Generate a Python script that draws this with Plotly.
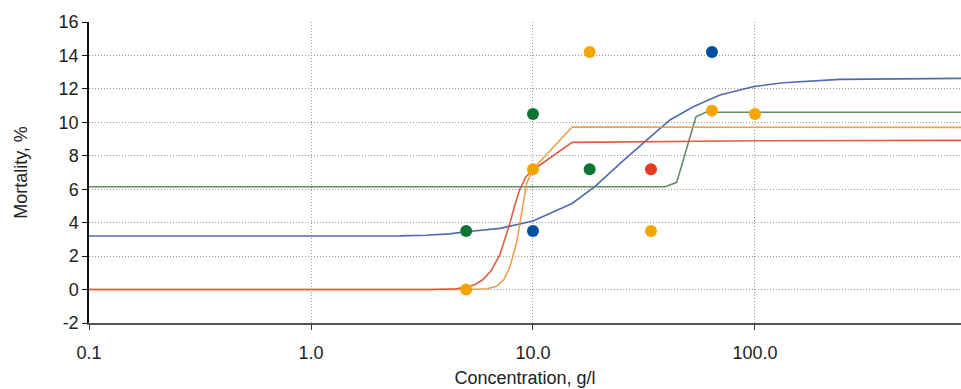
import plotly.graph_objects as go

# ---- data ----
blue_pts_x = [10, 64]
blue_pts_y = [3.5, 14.2]
green_pts_x = [5, 10, 18]
green_pts_y = [3.5, 10.5, 7.2]
red_pts_x = [34]
red_pts_y = [7.2]
orange_pts_x = [5, 10, 18, 34, 64, 100]
orange_pts_y = [0, 7.2, 14.2, 3.5, 10.7, 10.5]

blue_fit_x = [0.1, 1, 2.5, 3.3, 4.2, 5, 7.1, 10, 15, 19, 24.7, 32.5, 41.4, 52.7, 69.5, 98, 134, 241, 800, 848]
blue_fit_y = [3.2, 3.2, 3.21, 3.25, 3.33, 3.46, 3.66, 4.1, 5.15, 6.15, 7.55, 8.94, 10.14, 10.93, 11.63, 12.13, 12.37, 12.57, 12.6, 12.63]
green_fit_x = [0.1, 39.4, 44.4, 54.2, 60, 848]
green_fit_y = [6.15, 6.15, 6.41, 10.33, 10.6, 10.6]
red_fit_x = [0.1, 3.5, 4.5, 5, 5.5, 5.96, 6.5, 7.1, 7.87, 8.3, 8.73, 9.3, 10, 15, 100, 848]
red_fit_y = [0, 0, 0.05, 0.15, 0.3, 0.6, 1.15, 2.1, 3.97, 5.1, 6.0, 6.75, 7.15, 8.8, 8.9, 8.92]
orange_fit_x = [0.1, 5, 6.2, 6.86, 7.4, 7.87, 8.43, 8.9, 9.36, 10, 15, 848]
orange_fit_y = [0, 0, 0.05, 0.2, 0.6, 1.36, 2.78, 4.75, 6.35, 7.2, 9.72, 9.7]

x_tickvals = [0.1, 1, 10, 100]
x_ticktext = ["0.1", "1.0", "10.0", "100.0"]
y_tickvals = [-2, 0, 2, 4, 6, 8, 10, 12, 14, 16]
y_ticktext = ["-2", "0", "2", "4", "6", "8", "10", "12", "14", "16"]

FONT = "Liberation Sans, Arial, sans-serif"

fig = go.Figure()

line_specs = [
    (blue_fit_x, blue_fit_y, "rgba(60,90,165,0.9)"),
    (green_fit_x, green_fit_y, "rgba(80,130,85,0.9)"),
    (orange_fit_x, orange_fit_y, "rgba(236,150,60,0.9)"),
    (red_fit_x, red_fit_y, "rgba(222,75,50,0.9)"),
]
for xs, ys, c in line_specs:
    fig.add_trace(go.Scatter(x=xs, y=ys, mode="lines", line=dict(color=c, width=1.6),
                             showlegend=False, hoverinfo="skip"))

pt_specs = [
    (blue_pts_x, blue_pts_y, "#0050a2"),
    (green_pts_x, green_pts_y, "#0f7434"),
    (red_pts_x, red_pts_y, "#e63a1f"),
    (orange_pts_x, orange_pts_y, "#f6a500"),
]
for xs, ys, c in pt_specs:
    fig.add_trace(go.Scatter(x=xs, y=ys, mode="markers",
                             marker=dict(color=c, size=12, line=dict(width=0)),
                             showlegend=False))

fig.update_layout(
    width=961, height=389,
    margin=dict(l=89, r=0, t=22, b=66),
    paper_bgcolor="white", plot_bgcolor="white",
    font=dict(family=FONT, size=18, color="#222"),
    xaxis=dict(
        type="log", range=[-1, 2.928],
        tickvals=x_tickvals, ticktext=x_ticktext,
        showgrid=True, gridcolor="#9a9a9a", griddash="1px,2px", gridwidth=1,
        showline=True, linecolor="#555", linewidth=2,
        ticks="outside", ticklen=5, tickcolor="#333",
        ticklabelstandoff=7,
        title=dict(text="Concentration, g/l", font=dict(size=18), standoff=10),
        zeroline=False,
    ),
    yaxis=dict(
        range=[-2, 16], tickvals=y_tickvals, ticktext=y_ticktext,
        showgrid=True, gridcolor="#9a9a9a", griddash="1px,2px", gridwidth=1,
        showline=True, linecolor="#111", linewidth=1.5,
        ticks="outside", ticklen=5, tickcolor="#111",
        title=dict(text="Mortality, %", font=dict(size=18), standoff=26),
        zeroline=False,
    ),
)

fig.write_html("out.html",
               config={"displayModeBar": False},
               post_script="document.body.style.margin='0';document.body.style.overflow='hidden';")
